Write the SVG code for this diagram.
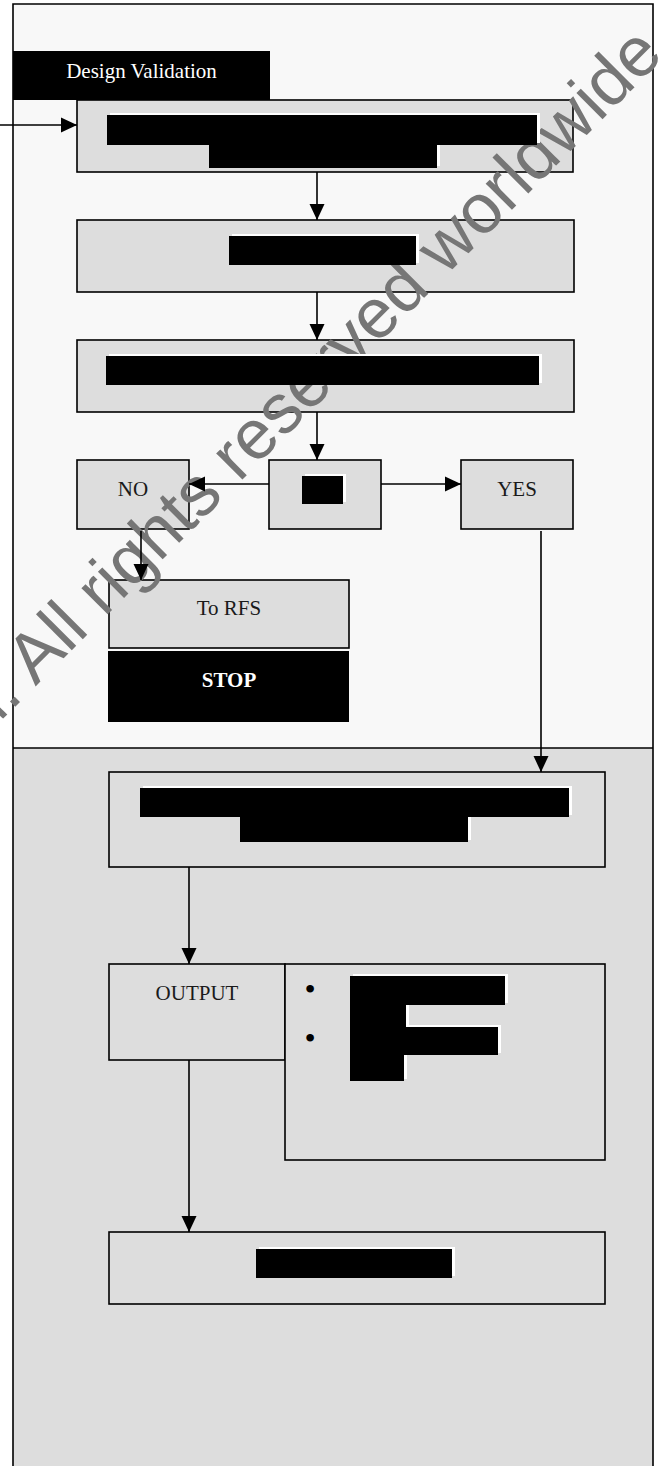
<svg xmlns="http://www.w3.org/2000/svg" width="659" height="1466" viewBox="0 0 659 1466">
<style>
.box{fill:#dddddd;stroke:#000;stroke-width:1.6}
.red{fill:#000}
.hl{fill:#fff}
.lbl{font-family:"Liberation Serif","Times New Roman",serif;font-size:21px;fill:#1a1a1a;text-anchor:middle}
.wlbl{font-family:"Liberation Serif","Times New Roman",serif;font-size:21px;fill:#fff;text-anchor:middle}
.bul{font-family:"Liberation Serif","Times New Roman",serif;font-size:32px;fill:#000;text-anchor:middle}
.conn{stroke:#000;stroke-width:1.6;fill:none;marker-end:url(#arrow)}
.line{stroke:#000;stroke-width:1.6;fill:none}
.wm{font-family:"Liberation Sans",Arial,sans-serif;font-size:70px;fill:#767676}
</style>
<defs>
<marker id="arrow" markerUnits="userSpaceOnUse" viewBox="0 0 16 16" markerWidth="16" markerHeight="16" refX="16" refY="8" orient="auto">
<path d="M0,0.5 L16,8 L0,15.5 z" fill="#000"/>
</marker>
</defs>
<g id="background">
<rect x="0" y="0" width="659" height="1466" fill="#fff"/>
<rect x="13" y="4" width="640" height="744" fill="#f8f8f8"/>
<rect x="13" y="748" width="640" height="718" fill="#dddddd"/>
<path class="line" d="M13,1466 V4 H653 V1466" stroke-width="2"/>
<path class="line" d="M13,748 H653" stroke-width="2"/>
</g>
<g id="header">
<rect x="13" y="51" width="257" height="49" fill="#000"/>
<text class="wlbl" x="141.5" y="78">Design Validation</text>
</g>
<g id="box1"><rect class="box" x="77" y="100" width="496" height="72"/></g>
<g id="box2"><rect class="box" x="77" y="220" width="497" height="72"/></g>
<g id="box3"><rect class="box" x="77" y="340" width="497" height="72"/></g>
<g id="no"><rect class="box" x="77" y="460" width="112" height="69"/><text class="lbl" x="133" y="496">NO</text></g>
<g id="decision"><rect class="box" x="269" y="460" width="112" height="69"/></g>
<g id="yes"><rect class="box" x="461" y="460" width="112" height="69"/><text class="lbl" x="517" y="496">YES</text></g>
<g id="to-rfs"><rect class="box" x="109" y="580" width="240" height="68"/><text class="lbl" x="229" y="615">To RFS</text></g>
<g id="stop"><rect x="108" y="651" width="241" height="71" fill="#000"/><text class="wlbl" x="229" y="687" font-weight="bold">STOP</text></g>
<g id="box4"><rect class="box" x="109" y="772" width="496" height="95"/></g>
<g id="output"><rect class="box" x="109" y="964" width="176" height="96"/><text class="lbl" x="197" y="1000">OUTPUT</text></g>
<g id="output-list"><rect class="box" x="285" y="964" width="320" height="196"/><text class="bul" x="310" y="1000">•</text><text class="bul" x="310" y="1049">•</text></g>
<g id="final"><rect class="box" x="109" y="1232" width="496" height="72"/></g>
<g id="watermark">
<text class="wm" transform="translate(10.7,711.2) rotate(-45)" x="-39" y="0">d. All rights reserved worldwide</text>
</g>
<g id="redactions">
<g id="box1-redaction">
<rect class="hl" x="110" y="113" width="430" height="30"/><rect class="hl" x="212" y="143" width="228" height="23"/>
<rect class="red" x="107" y="115" width="430" height="30"/><rect class="red" x="209" y="145" width="228" height="23"/>
</g>
<g id="box2-redaction"><rect class="hl" x="232" y="234" width="187" height="29"/><rect class="red" x="229" y="236" width="187" height="29"/></g>
<g id="box3-redaction"><rect class="hl" x="109" y="354" width="433" height="29"/><rect class="red" x="106" y="356" width="433" height="29"/></g>
<g id="decision-redaction"><rect class="hl" x="305" y="474" width="41" height="28"/><rect class="red" x="302" y="476" width="41" height="28"/></g>
<g id="box4-redaction">
<rect class="hl" x="143" y="786" width="429" height="29"/><rect class="hl" x="243" y="815" width="228" height="25"/>
<rect class="red" x="140" y="788" width="429" height="29"/><rect class="red" x="240" y="817" width="228" height="25"/>
</g>
<g id="list-redaction">
<rect class="hl" x="353" y="974" width="155" height="29"/><rect class="hl" x="353" y="1003" width="56" height="22"/><rect class="hl" x="353" y="1025" width="148" height="28"/><rect class="hl" x="353" y="1053" width="54" height="26"/>
<rect class="red" x="350" y="976" width="155" height="29"/><rect class="red" x="350" y="1005" width="56" height="22"/><rect class="red" x="350" y="1027" width="148" height="28"/><rect class="red" x="350" y="1055" width="54" height="26"/>
</g>
<g id="final-redaction"><rect class="hl" x="259" y="1247" width="196" height="29"/><rect class="red" x="256" y="1249" width="196" height="29"/></g>
</g>
<g id="connectors">
<path class="conn" d="M0,125 H77"/>
<path class="conn" d="M317,172 V220"/>
<path class="conn" d="M317,292 V340"/>
<path class="conn" d="M317,412 V460"/>
<path class="conn" d="M269,484 H189"/>
<path class="conn" d="M381,484 H461"/>
<path class="conn" d="M141,531 V580"/>
<path class="conn" d="M541,531 V772"/>
<path class="conn" d="M189,867 V964"/>
<path class="conn" d="M189,1060 V1232"/>
</g>
</svg>
